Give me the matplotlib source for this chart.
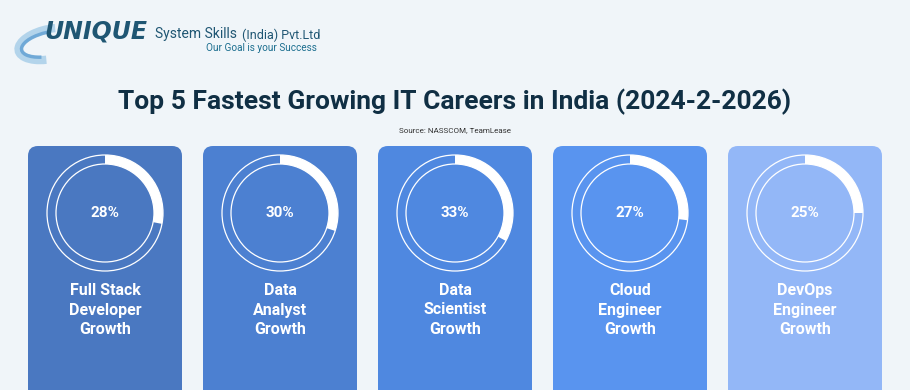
import matplotlib.pyplot as plt
from matplotlib.patches import FancyBboxPatch, Wedge, Circle, Arc

# data
careers = ["Full Stack\nDeveloper\nGrowth", "Data\nAnalyst\nGrowth", "Data\nScientist\nGrowth",
           "Cloud\nEngineer\nGrowth", "DevOps\nEngineer\nGrowth"]
growth = [28, 30, 33, 27, 25]
card_colors = ["#4a78c1", "#4c80d1", "#4f88e0", "#5994ef", "#93b7f7"]

title = "Top 5 Fastest Growing IT Careers in India (2024-2-2026)"
source = "Source: NASSCOM, TeamLease"

bg = "#f0f5f9"
plt.rcParams['font.family'] = ['Roboto', 'DejaVu Sans']

fig = plt.figure(figsize=(9.1, 3.9), dpi=100, facecolor=bg)
ax = fig.add_axes([0, 0, 1, 1])
ax.set_xlim(0, 910)
ax.set_ylim(390, 0)
ax.set_aspect("equal")
ax.axis("off")
ax.set_facecolor(bg)

# logo
ax.add_patch(Arc((50, 44), 64, 30, angle=-12, theta1=115, theta2=300, color="#a9cfe9", lw=6, alpha=0.85))
ax.add_patch(Arc((50, 44), 58, 24, angle=-12, theta1=135, theta2=270, color="#5f9fd2", lw=2.5, alpha=0.8))
ax.text(44, 32, "UNIQUE", fontsize=17, fontweight="heavy", fontstyle="italic",
        color="#1f5673", va="center", ha="left", family=["DejaVu Sans"])
ax.text(155, 34, "System Skills", fontsize=10, color="#1f5673", va="center", ha="left")
ax.text(242, 35, "(India) Pvt.Ltd", fontsize=9, color="#1f5673", va="center", ha="left")
ax.text(206, 48, "Our Goal is your Success", fontsize=7.2, color="#1b6e8f", va="center", ha="left")

# title
ax.text(455, 102, title, fontsize=19, fontweight="bold", color="#102f44",
        ha="center", va="center")
ax.text(455, 130, source, fontsize=5.8, color="#333333", ha="center", va="center")

# cards
for i, (lab, val, col) in enumerate(zip(careers, growth, card_colors)):
    x0 = 28 + i * 175
    cx = x0 + 77
    ax.add_patch(FancyBboxPatch((x0, 146), 154, 260, boxstyle="round,pad=0,rounding_size=10",
                                fc=col, ec="none"))
    cy = 213
    ax.add_patch(Circle((cx, cy), 58, fill=False, ec="white", lw=0.9))
    ax.add_patch(Circle((cx, cy), 49, fill=False, ec="white", lw=0.9))
    ax.add_patch(Wedge((cx, cy), 58, -90, -90 + 360 * val / 100, width=9, fc="white", ec="none"))
    ax.text(cx, cy, f"{val}%", fontsize=11, fontweight="bold", color="white", ha="center", va="center")
    ax.text(cx, 310, lab, fontsize=11.5, fontweight="bold", color="white", ha="center", va="center",
            linespacing=1.4)

fig.savefig("out.png", dpi=100, facecolor=bg)
